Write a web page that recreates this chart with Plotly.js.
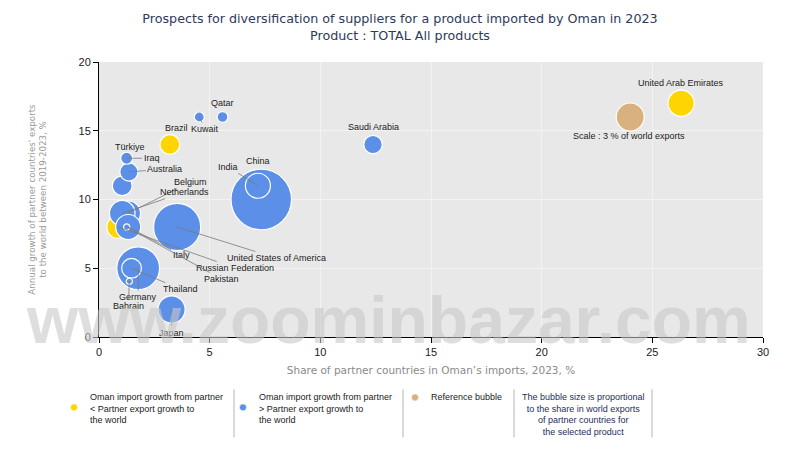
<!DOCTYPE html>
<html>
<head>
<meta charset="utf-8">
<script src="https://cdn.plot.ly/plotly-3.0.1.min.js"></script>
<style>html,body{margin:0;padding:0;background:#fff;}#chart{width:800px;height:450px;}</style>
</head>
<body>
<div id="chart"></div>
<script>
// ---- Data ----
// Partners where Oman import growth < partner export growth (yellow)
var yellowNames = ["United Arab Emirates", "Brazil", "Russian Federation"];
var yellowShare = [26.3, 3.2, 0.87];          // share in Oman's imports, %
var yellowGrowth = [17, 14, 8];               // annual growth of partner exports 2019-2023, %
var yellowWorld = [2.6, 1.5, 2.0];            // share in world exports, %

// Partners where Oman import growth > partner export growth (blue), in drawing order
var blueNames = ["China", "United States of America", "Germany", "Belgium", "Netherlands",
  "Italy", "Japan", "India", "Saudi Arabia", "Türkiye", "Thailand", "Australia",
  "Iraq", "Qatar", "Kuwait", "Pakistan", "Bahrain"];
var blueShare = [7.33, 3.53, 1.77, 1.32, 1.05, 1.32, 3.28, 7.18, 12.38, 1.05, 1.47, 1.35,
  1.25, 5.58, 4.53, 1.25, 1.37];
var blueGrowth = [10, 8, 5, 9, 9, 8, 2, 11, 14, 11, 5, 12, 13, 16, 16, 8, 4.05];
var blueWorld = [14.0, 8.5, 7.0, 2.3, 2.5, 2.4, 2.8, 2.4, 1.3, 1.5, 1.5, 1.25, 0.55,
  0.45, 0.38, 0.15, 0.15];

// Reference bubble
var refName = ["Scale : 3 % of world exports"];
var refShare = [24.0];
var refGrowth = [16];
var refWorld = [3];

var titleText = "Prospects for diversification of suppliers for a product imported by Oman in 2023<br>Product : TOTAL All products";
var xTitle = "Share of partner countries in Oman\u2019s imports, 2023, %";
var yTitle = "Annual growth of partner countries' exports<br>to the world between 2019-2023, %";
var xTicks = [0, 5, 10, 15, 20, 25, 30];
var yTicks = [0, 5, 10, 15, 20];

var legendTexts = [
  "Oman import growth from partner<br>< Partner export growth to<br>the world",
  "Oman import growth from partner<br>> Partner export growth to<br>the world",
  "Reference bubble",
  "The bubble size is proportional<br>to the share in world exports<br>of partner countries for<br>the selected product"
];

// ---- Styling / layout ----
var BLUE = "#5b8fe8", YELLOW = "#ffd500", TAN = "#d8b17e";
var sizeref = 2 * 3 / (28 * 28); // 3 % -> 28 px diameter

function bubbleTrace(names, xs, ys, ss, color) {
  return {
    type: "scatter", mode: "markers", x: xs, y: ys, text: names,
    hoverinfo: "text", showlegend: false, cliponaxis: true,
    marker: { size: ss, sizemode: "area", sizeref: sizeref, color: color,
      opacity: 1, line: { color: "#ffffff", width: 1.2 } }
  };
}

var traces = [
  bubbleTrace(refName, refShare, refGrowth, refWorld, TAN),
  bubbleTrace(yellowNames, yellowShare, yellowGrowth, yellowWorld, YELLOW),
  bubbleTrace(blueNames, blueShare, blueGrowth, blueWorld, BLUE)
];

// label placement: [pixel dx, pixel dy, leader line?]
var labelPlacement = {
  "United Arab Emirates": [0, -20, false],
  "Scale : 3 % of world exports": [-1, 19, false],
  "Saudi Arabia": [0, -18, false],
  "Qatar": [0, -14, false],
  "Kuwait": [6, 12, true],
  "Brazil": [7, -17, false],
  "Iraq": [25, 0, true],
  "Türkiye": [8, -39, false],
  "Australia": [36, -3, true],
  "Belgium": [62, -31, true],
  "Netherlands": [62, -21, true],
  "India": [-30, -19, true],
  "China": [-3, -39, false],
  "United States of America": [99, 31, true],
  "Italy": [53, 28, true],
  "Russian Federation": [117, 41, true],
  "Pakistan": [95, 52, true],
  "Thailand": [49, 21, true],
  "Germany": [0, 29, true],
  "Bahrain": [-1, 25, true],
  "Japan": [0, 23, true]
};

var labelFont = { family: "Liberation Sans, Arial, sans-serif", size: 9, color: "#222" };
var annotations = [];
function addLabels(names, xs, ys) {
  names.forEach(function (n, i) {
    var p = labelPlacement[n];
    if (!p) return;
    if (p[2]) {
      annotations.push({ x: xs[i], y: ys[i], xref: "x", yref: "y", text: n,
        showarrow: true, arrowhead: 0, arrowwidth: 0.8, arrowcolor: "#7a7a7a",
        standoff: 0, startstandoff: 0, ax: p[0], ay: p[1], font: labelFont });
    } else {
      annotations.push({ x: xs[i], y: ys[i], xref: "x", yref: "y", text: n,
        showarrow: false, xshift: p[0], yshift: -p[1], font: labelFont });
    }
  });
}
addLabels(yellowNames, yellowShare, yellowGrowth);
addLabels(blueNames, blueShare, blueGrowth);
addLabels(refName, refShare, refGrowth);

// plot area in pixels
var L = 99, R = 763, T = 62, B = 337.5;
function px(x) { return (x - L) / (R - L); }
function py(y) { return (B - y) / (B - T); }

// legend (bottom) built from annotations and shapes
var legFont = { family: "Liberation Sans, Arial, sans-serif", size: 9, color: "#222" };
var legX = [88, 257, 429];
legendTexts.slice(0, 3).forEach(function (t, i) {
  annotations.push({ xref: "paper", yref: "paper", x: px(legX[i]), y: py(391),
    xanchor: "left", yanchor: "top", align: "left", showarrow: false, text: t, font: legFont });
});
annotations.push({ xref: "paper", yref: "paper", x: px(583), y: py(391),
  xanchor: "center", yanchor: "top", align: "center", showarrow: false, text: legendTexts[3],
  font: { family: "Liberation Sans, Arial, sans-serif", size: 9, color: "#1f2d5c" } });

// watermark
annotations.push({ xref: "paper", yref: "paper", x: px(388), y: py(320), xanchor: "center",
  yanchor: "middle", showarrow: false, text: "www.zoominbazar.com",
  font: { family: "Liberation Sans, Arial, sans-serif", size: 66, color: "rgba(200,200,200,0.6)", weight: "bold" } });

var shapes = [];
var dots = [[74, 408, YELLOW], [243, 408, BLUE], [415, 398, TAN]];
dots.forEach(function (d) {
  shapes.push({ type: "circle", xref: "paper", yref: "paper",
    x0: px(d[0] - 3.5), x1: px(d[0] + 3.5), y0: py(d[1] + 3.5), y1: py(d[1] - 3.5),
    fillcolor: d[2], line: { color: "#ffffff", width: 0.5 } });
});
[234, 403, 514, 652].forEach(function (x) {
  shapes.push({ type: "line", xref: "paper", yref: "paper", x0: px(x), x1: px(x),
    y0: py(390), y1: py(438), line: { color: "#b5b5b5", width: 1 } });
});

var layout = {
  width: 800, height: 450, autosize: false,
  margin: { l: L, r: 800 - R, t: T, b: 450 - B },
  paper_bgcolor: "#ffffff", plot_bgcolor: "#e8e8e8",
  title: { text: titleText, x: 0.5, xref: "container", y: 0.948, yanchor: "top",
    font: { family: "DejaVu Sans, Verdana, sans-serif", size: 12.7, color: "#2e3a59" } },
  xaxis: { range: [0, 30], tickvals: xTicks, ticktext: xTicks.map(String), ticks: "outside", ticklen: 5,
    tickcolor: "#000", showline: true, linecolor: "#000", linewidth: 1, mirror: false,
    gridcolor: "#f3f3f3", gridwidth: 1, zeroline: false, fixedrange: true,
    tickfont: { family: "Liberation Sans, Arial, sans-serif", size: 11, color: "#222" },
    title: { text: xTitle, standoff: 9,
      font: { family: "DejaVu Sans, Verdana, sans-serif", size: 10.5, color: "#8a8a8a" } } },
  yaxis: { range: [0, 20], tickvals: yTicks, ticktext: yTicks.map(String), ticks: "outside", ticklen: 5,
    tickcolor: "#000", showline: true, linecolor: "#000", linewidth: 1,
    gridcolor: "#f3f3f3", gridwidth: 1, zeroline: false, fixedrange: true,
    tickfont: { family: "Liberation Sans, Arial, sans-serif", size: 11, color: "#222" },
    title: { text: yTitle, standoff: 30,
      font: { family: "DejaVu Sans, Verdana, sans-serif", size: 8.7, color: "#9a9a9a" } } },
  annotations: annotations,
  shapes: shapes,
  hovermode: "closest"
};

Plotly.newPlot("chart", traces, layout, { displayModeBar: false, staticPlot: true });
</script>
</body>
</html>
